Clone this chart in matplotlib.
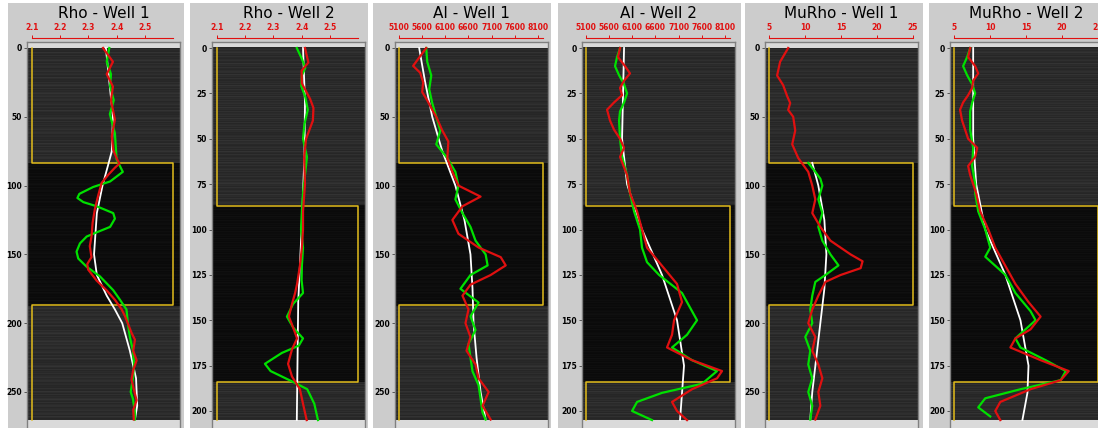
import numpy as np
import matplotlib.pyplot as plt
from matplotlib.patches import Rectangle

# ---- layout / axis data ----
titles = ['Rho - Well 1', 'Rho - Well 2', 'AI - Well 1', 'AI - Well 2', 'MuRho - Well 1', 'MuRho - Well 2']
rho_ticks = [2.1, 2.2, 2.3, 2.4, 2.5]
ai_ticks = [5100, 5600, 6100, 6600, 7100, 7600, 8100]
murho_ticks = [5, 10, 15, 20, 25]
rho_range = [2.1, 2.6]
ai_range = [5100, 8200]
murho_range = [5, 25]
well1_depth_ticks = [0, 50, 100, 150, 200, 250]
well2_depth_ticks = [0, 25, 50, 75, 100, 125, 150, 175, 200]
well1_layers = [83.5, 187]
well2_layers = [87, 184]
well1_bottom = 270
well2_bottom = 205

# ---- Rho, well 1 ----
rho_w1_white_d = [0, 50, 75, 85, 100, 120, 150, 165, 180, 190, 200, 220, 240, 260, 270]
rho_w1_white = [2.362, 2.387, 2.383, 2.37, 2.35, 2.33, 2.32, 2.33, 2.365, 2.394, 2.42, 2.447, 2.469, 2.473, 2.465]
rho_w1_green_d = [0, 10, 19, 28, 38, 48, 62, 81, 90, 97, 101, 106, 109, 112, 115, 120, 124, 130, 134, 137,
                  142, 148, 153, 159, 166, 176, 183, 190, 200, 210, 220, 230, 240, 250, 255, 265, 270]
rho_w1_green = [2.374, 2.365, 2.38, 2.377, 2.39, 2.376, 2.394, 2.40, 2.422, 2.377, 2.317, 2.268, 2.261, 2.282,
                2.329, 2.388, 2.394, 2.377, 2.329, 2.294, 2.27, 2.258, 2.264, 2.294, 2.341, 2.388, 2.412, 2.435,
                2.44, 2.447, 2.458, 2.462, 2.458, 2.45, 2.458, 2.465, 2.465]
rho_w1_red_d = [0, 10, 19, 28, 38, 52, 64, 74, 81, 84, 87, 92, 98, 107, 117, 127, 137, 144, 152, 157, 161, 169,
                176, 183, 190, 195, 207, 212, 220, 227, 234, 241, 248, 256, 263, 270]
rho_w1_red = [2.352, 2.387, 2.365, 2.387, 2.38, 2.394, 2.383, 2.388, 2.402, 2.41, 2.394, 2.371, 2.347, 2.335,
              2.323, 2.315, 2.311, 2.305, 2.311, 2.296, 2.299, 2.329, 2.364, 2.394, 2.418, 2.43, 2.453, 2.465,
              2.459, 2.471, 2.459, 2.453, 2.461, 2.471, 2.459, 2.461]

# ---- Rho, well 2 ----
rho_w2_white_d = [0, 30, 60, 100, 140, 205]
rho_w2_white = [2.405, 2.412, 2.41, 2.40, 2.388, 2.383]
rho_w2_green_d = [0, 6, 11, 15, 21, 27, 34, 42, 50, 60, 70, 80, 90, 100, 110, 120, 128, 135, 141, 148, 154,
                  160, 164, 168, 174, 178, 181, 184, 188, 196, 205]
rho_w2_green = [2.383, 2.401, 2.413, 2.401, 2.399, 2.413, 2.422, 2.41, 2.405, 2.419, 2.412, 2.405, 2.401, 2.398,
                2.405, 2.401, 2.40, 2.405, 2.37, 2.348, 2.37, 2.405, 2.39, 2.33, 2.27, 2.29, 2.33, 2.37, 2.42,
                2.445, 2.458]
rho_w2_red_d = [0, 8, 12.5, 19.5, 28, 33, 40, 50, 60, 75, 90, 100, 110, 120, 130, 135, 141, 148, 154, 160, 166,
                174, 181, 188, 196, 205]
rho_w2_red = [2.412, 2.424, 2.40, 2.401, 2.43, 2.442, 2.44, 2.416, 2.409, 2.412, 2.405, 2.405, 2.401, 2.394,
              2.384, 2.377, 2.366, 2.355, 2.37, 2.384, 2.366, 2.352, 2.366, 2.394, 2.405, 2.418]

# ---- AI, well 1 ----
ai_w1_white_d = [0, 25, 50, 75, 100, 125, 150, 175, 200, 225, 250, 270]
ai_w1_white = [5535, 5665, 5817, 6035, 6317, 6513, 6643, 6687, 6709, 6774, 6861, 6970]
ai_w1_green_d = [0, 10, 20, 30, 40, 50, 60, 70, 80, 90, 100, 110, 120, 130, 140, 150, 158, 165, 175, 185, 195,
                 205, 215, 225, 235, 245, 255, 265, 270]
ai_w1_green = [5687, 5709, 5796, 5752, 5817, 5904, 5991, 5904, 6143, 6317, 6383, 6317, 6470, 6643, 6752, 6970,
               7013, 6643, 6426, 6817, 6643, 6752, 6600, 6643, 6687, 6817, 6861, 6904, 6970]
ai_w1_red_d = [0, 8, 13, 18, 25, 32, 38, 45, 50, 60, 68, 80, 90, 100, 108, 115, 125, 135, 145, 152, 158, 165,
               172, 180, 190, 200, 210, 220, 230, 240, 250, 260, 270]
ai_w1_red = [5687, 5513, 5404, 5557, 5622, 5600, 5709, 5817, 5904, 6035, 6165, 6143, 6252, 6383, 6861, 6470,
             6252, 6383, 6817, 7296, 7404, 7078, 6643, 6470, 6600, 6535, 6643, 6557, 6752, 6817, 7035, 6904, 7078]

# ---- AI, well 2 ----
ai_w2_white_d = [0, 25, 50, 75, 100, 125, 150, 175, 205]
ai_w2_white = [5921, 5900, 5878, 5986, 6309, 6741, 7065, 7216, 7130]
ai_w2_green_d = [0, 5, 10, 15, 20, 25, 30, 35, 40, 50, 60, 70, 80, 90, 100, 110, 118, 125, 135, 145, 150, 158,
                 165, 172, 178, 185, 190, 195, 200, 205]
ai_w2_green = [5834, 5770, 5726, 5813, 5921, 5986, 5921, 5834, 5813, 5834, 5878, 5986, 6050, 6137, 6266, 6309,
               6417, 6676, 7173, 7389, 7497, 7281, 6957, 7389, 7929, 7605, 6741, 6202, 6094, 6525]
ai_w2_red_d = [0, 5, 10, 14, 18, 22, 26, 30, 34, 40, 45, 50, 55, 60, 70, 80, 90, 100, 110, 120, 130, 140, 150,
               158, 165, 172, 178, 182, 188, 195, 200, 205]
ai_w2_red = [5834, 5791, 5942, 6050, 5921, 5834, 5878, 5705, 5554, 5618, 5705, 5834, 5921, 5834, 5986, 6050,
             6202, 6309, 6417, 6741, 7065, 7173, 7001, 6957, 6849, 7389, 8037, 7929, 7389, 6957, 7065, 7281]

# ---- MuRho, well 1 ----
murho_w1_white_d = [83.5, 100, 125, 150, 175, 200, 225, 250, 270]
murho_w1_white = [11.01, 11.85, 12.69, 12.97, 12.69, 12.13, 11.57, 11.01, 10.73]
murho_w1_green_d = [83.5, 90, 95, 100, 110, 120, 130, 140, 150, 158, 165, 170, 180, 190, 200, 210, 220, 230,
                    240, 250, 260, 270]
murho_w1_green = [10.45, 11.43, 12.13, 12.41, 11.85, 12.41, 11.85, 12.41, 13.53, 14.65, 12.83, 11.43, 11.01,
                  10.73, 11.01, 10.03, 10.73, 10.45, 11.01, 10.45, 11.01, 10.73]
murho_w1_red_d = [0, 10, 20, 27, 35, 40, 45, 50, 60, 70, 80, 90, 100, 110, 120, 130, 140, 150, 155, 160, 165,
                  170, 180, 190, 200, 210, 220, 230, 240, 250, 260, 270]
murho_w1_red = [7.66, 6.54, 6.12, 6.96, 7.52, 7.94, 7.66, 8.36, 8.64, 8.22, 9.06, 10.45, 11.01, 11.43, 11.01,
                12.13, 13.53, 16.33, 18.0, 17.73, 14.93, 12.83, 11.85, 11.01, 10.45, 11.43, 11.01, 11.85, 12.41,
                11.85, 12.13, 11.43]

# ---- MuRho, well 2 ----
murho_w2_white_d = [0, 25, 50, 75, 100, 125, 150, 175, 190, 205]
murho_w2_white = [7.66, 7.66, 7.66, 8.08, 9.34, 12.13, 14.23, 15.35, 15.2, 14.5]
murho_w2_green_d = [0, 5, 10, 15, 20, 25, 30, 35, 45, 55, 65, 75, 80, 90, 100, 110, 115, 125, 135, 145, 150,
                    155, 160, 165, 172, 178, 183, 188, 193, 198, 203]
murho_w2_green = [7.24, 6.82, 6.26, 6.82, 7.52, 7.94, 7.52, 7.24, 7.24, 7.66, 7.52, 7.94, 7.94, 8.36, 9.34,
                  10.03, 9.34, 12.13, 13.53, 15.63, 16.33, 14.93, 13.53, 14.23, 17.73, 20.52, 19.83, 14.23, 9.34,
                  8.36, 10.03]
murho_w2_red_d = [0, 5, 10, 14, 18, 22, 26, 30, 34, 40, 50, 55, 60, 65, 70, 80, 90, 100, 110, 120, 130, 140,
                  148, 155, 160, 165, 172, 178, 183, 188, 195, 200, 205]
murho_w2_red = [7.24, 6.96, 7.94, 8.36, 7.66, 7.52, 6.96, 6.26, 5.84, 6.12, 6.96, 8.22, 7.94, 6.96, 7.24, 8.08,
                8.64, 9.76, 10.73, 12.13, 13.53, 15.35, 17.03, 15.63, 13.53, 12.83, 17.03, 20.94, 19.83, 15.63,
                11.43, 10.73, 11.43]

W, H = 1098, 428
RED = '#e01010'

panels = [
    dict(ticks=rho_ticks, labels=['2.1', '2.2', '2.3', '2.4', '2.5'], vr=rho_range, xlim=(2.0823, 2.6248),
         well=1, curves=[(rho_w1_white, rho_w1_white_d), (rho_w1_green, rho_w1_green_d), (rho_w1_red, rho_w1_red_d)]),
    dict(ticks=rho_ticks, labels=['2.1', '2.2', '2.3', '2.4', '2.5'], vr=rho_range, xlim=(2.0823, 2.6248),
         well=2, curves=[(rho_w2_white, rho_w2_white_d), (rho_w2_green, rho_w2_green_d), (rho_w2_red, rho_w2_red_d)]),
    dict(ticks=ai_ticks, labels=[str(t) for t in ai_ticks], vr=ai_range, xlim=(5013, 8317),
         well=1, curves=[(ai_w1_white, ai_w1_white_d), (ai_w1_green, ai_w1_green_d), (ai_w1_red, ai_w1_red_d)]),
    dict(ticks=ai_ticks, labels=[str(t) for t in ai_ticks], vr=ai_range, xlim=(5013, 8317),
         well=2, curves=[(ai_w2_white, ai_w2_white_d), (ai_w2_green, ai_w2_green_d), (ai_w2_red, ai_w2_red_d)]),
    dict(ticks=murho_ticks, labels=[str(t) for t in murho_ticks], vr=murho_range, xlim=(4.44, 25.7),
         well=1, curves=[(murho_w1_white, murho_w1_white_d), (murho_w1_green, murho_w1_green_d), (murho_w1_red, murho_w1_red_d)]),
    dict(ticks=murho_ticks, labels=[str(t) for t in murho_ticks], vr=murho_range, xlim=(4.44, 25.7),
         well=2, curves=[(murho_w2_white, murho_w2_white_d), (murho_w2_green, murho_w2_green_d), (murho_w2_red, murho_w2_red_d)]),
]

panel_x = [(8, 184), (190, 368), (373, 551), (558, 741), (745, 923), (929, 1104)]
axes_left = [27, 212, 395, 582, 765, 950]
axes_w = 153

# stripe pattern for the dark background texture
stripes = np.array([0.0, 0.02, 0.035, 0.01, 0.03, 0.0, 0.05, 0.015, 0.025, 0.0, 0.04, 0.01])

fig = plt.figure(figsize=(W / 100, H / 100), dpi=100, facecolor='white')

for i, p in enumerate(panels):
    x0, x1 = panel_x[i]
    fig.add_artist(Rectangle((x0 / W, 0), (x1 - x0) / W, (H - 3) / H, transform=fig.transFigure,
                             facecolor='#cccccc', edgecolor='none', zorder=0))

    if p['well'] == 1:
        scale, layers, bottom, dticks = 1.376, well1_layers, well1_bottom, well1_depth_ticks
    else:
        scale, layers, bottom, dticks = 1.815, well2_layers, well2_bottom, well2_depth_ticks

    left = axes_left[i]
    ax = fig.add_axes([left / W, 1 - 434 / H, axes_w / W, (434 - 42) / H])
    ax.set_facecolor('#dadada')
    ax.set_xlim(p['xlim'])
    ax.set_ylim((434 - 48) / scale, (42 - 48) / scale)

    # background image: dark layers with thin horizontal stripes
    nrows = int(bottom * 2)
    rows = np.arange(nrows) / 2.0
    inside = (rows >= layers[0]) & (rows < layers[1])
    base = np.where(inside, 0.04, 0.15)
    amp = np.where(inside, 0.5, 1.0)
    img = base + amp * stripes[np.arange(nrows) % len(stripes)]
    ax.imshow(img[:, None], cmap='gray', vmin=0, vmax=1, aspect='auto', interpolation='nearest',
              extent=[p['xlim'][0], p['xlim'][1], bottom, 0], zorder=1)

    # yellow layer outline
    lo, hi = p['vr']
    ax.plot([lo, lo, hi, hi, lo, lo], [0, layers[0], layers[0], layers[1], layers[1], bottom],
            color='#e3bd1c', lw=1.1, zorder=2)

    (wv, wd), (gv, gd), (rv, rd) = p['curves']
    ax.plot(wv, wd, color='white', lw=1.3, zorder=3, solid_joinstyle='round')
    ax.plot(gv, gd, color='#00e000', lw=1.6, zorder=4, solid_joinstyle='round')
    ax.plot(rv, rd, color=RED, lw=1.6, zorder=5, solid_joinstyle='round')

    ax.set_xticks([])
    ax.set_yticks(dticks)
    ax.set_yticklabels([str(t) for t in dticks], fontsize=5.5, fontweight='bold')
    ax.tick_params(axis='y', length=2.5, width=0.7, pad=1, color='#555555')
    for s in ax.spines.values():
        s.set_color('#808080')
        s.set_linewidth(1.0)

    # red value scale on top
    ax2 = ax.twiny()
    ax2.set_xlim(p['xlim'])
    for name in ['left', 'right', 'bottom']:
        ax2.spines[name].set_visible(False)
    ax2.spines['top'].set_position(('outward', 3))
    ax2.spines['top'].set_bounds(lo, hi)
    ax2.spines['top'].set_color(RED)
    ax2.spines['top'].set_linewidth(0.8)
    ax2.set_xticks(p['ticks'])
    ax2.set_xticklabels(p['labels'], fontsize=5.5, fontweight='bold', color=RED)
    ax2.tick_params(axis='x', colors=RED, length=2.5, width=0.7, pad=2)

    fig.text((left + axes_w / 2) / W, 1 - 14 / H, titles[i], ha='center', va='center', fontsize=11)

fig.savefig('out.png', dpi=100, facecolor='white')
